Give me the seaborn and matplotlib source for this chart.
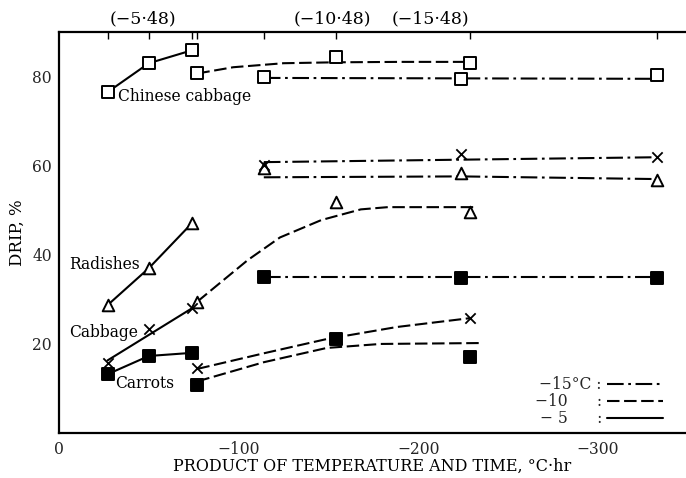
import matplotlib
matplotlib.use("Agg")
import matplotlib.pyplot as plt
import seaborn as sns
from matplotlib.lines import Line2D

# ---------------- data ----------------
x5 = [-27, -50, -74]       # -5 C runs (degC*hr)
x10 = [-77, -154, -229]    # -10 C runs
x15 = [-114, -224, -333]   # -15 C runs

chinese_5 = [76.5, 83.0, 85.9]
chinese_10 = [80.7, 84.3, 83.0]
chinese_15 = [79.8, 79.4, 80.3]
radish_5 = [28.7, 37.0, 47.1]
radish_10 = [29.4, 51.8, 49.5]
radish_15 = [59.4, 58.3, 56.7]
cabbage_5 = [15.7, 23.3, 28.0]
cabbage_10 = [14.6, 21.3, 25.8]
cabbage_15 = [60.1, 62.6, 61.9]
carrot_5 = [13.2, 17.3, 18.0]
carrot_10 = [10.8, 21.1, 17.0]
carrot_15 = [35.0, 34.8, 34.8]

# hand-fitted curves as drawn in the reference
chinese_10_fx = [-77, -97, -125, -153, -190, -229]
chinese_10_fy = [80.7, 82.1, 83.0, 83.2, 83.3, 83.3]
chinese_15_fx = [-114, -333]
chinese_15_fy = [79.7, 79.5]
radish_10_fx = [-77, -105, -123, -146, -168, -183, -231]
radish_10_fy = [29.5, 38.8, 43.9, 47.8, 50.2, 50.7, 50.7]
radish_15_fx = [-114, -224, -333]
radish_15_fy = [57.4, 57.6, 57.0]
cabbage_5_fx = [-27, -74]
cabbage_5_fy = [16.3, 28.0]
cabbage_10_fx = [-77, -114, -149, -188, -229]
cabbage_10_fy = [14.4, 17.9, 21.1, 23.8, 25.8]
cabbage_15_fx = [-114, -333]
cabbage_15_fy = [60.8, 61.9]
carrot_10_fx = [-77, -114, -149, -179, -234]
carrot_10_fy = [11.6, 15.9, 19.1, 20.0, 20.2]
carrot_15_fx = [-114, -333]
carrot_15_fy = [35.0, 35.0]

xticks = [0, -100, -200, -300]
xticklabels = ["0", "\u2212100", "\u2212200", "\u2212300"]
yticks = [20, 40, 60, 80]
top_ticks = [-27, -50, -74, -77, -114, -154, -229, -333]
top_labels = ["(\u22125\u00b748)", "(\u221210\u00b748)", "(\u221215\u00b748)"]
top_label_x = [-47, -152, -207]
legend_labels = ["\u221215\u00b0C :", "\u221210      :", "\u2212 5      :"]

# ---------------- styling ----------------
sns.set_theme(style="white")
plt.rcParams["font.family"] = ["DejaVu Serif"]
plt.rcParams["axes.unicode_minus"] = True

SOLID = "-"
DASH = (0, (6, 2.2))
DASHDOT = (0, (8, 2.2, 1.3, 2.2))
LW = 1.5

fig = plt.figure(figsize=(6.86, 4.78), dpi=100)
ax = fig.add_axes([0.086, 0.094, 0.914, 0.839])


def line(xs, ys, ls):
    sns.lineplot(x=xs, y=ys, ax=ax, color="black", linewidth=LW,
                 linestyle=ls, sort=False, estimator=None, zorder=2)


def pts(xs, ys, marker, filled):
    if marker == "x":
        sns.scatterplot(x=xs, y=ys, ax=ax, marker="x", s=55, color="black",
                        linewidth=1.3, zorder=4)
    else:
        sns.scatterplot(x=xs, y=ys, ax=ax, marker=marker, s=70,
                        facecolor="black" if filled else "white",
                        edgecolor="black", linewidth=1.4, zorder=4)


# Chinese cabbage
line(x5, chinese_5, SOLID)
line(chinese_10_fx, chinese_10_fy, DASH)
line(chinese_15_fx, chinese_15_fy, DASHDOT)
for xs, ys in [(x5, chinese_5), (x10, chinese_10), (x15, chinese_15)]:
    pts(xs, ys, "s", False)

# Radishes
line(x5, radish_5, SOLID)
line(radish_10_fx, radish_10_fy, DASH)
line(radish_15_fx, radish_15_fy, DASHDOT)
for xs, ys in [(x5, radish_5), (x10, radish_10), (x15, radish_15)]:
    pts(xs, ys, "^", False)

# Cabbage
line(cabbage_5_fx, cabbage_5_fy, SOLID)
line(cabbage_10_fx, cabbage_10_fy, DASH)
line(cabbage_15_fx, cabbage_15_fy, DASHDOT)
for xs, ys in [(x5, cabbage_5), (x10, cabbage_10), (x15, cabbage_15)]:
    pts(xs, ys, "x", False)

# Carrots
line(x5, carrot_5, SOLID)
line(carrot_10_fx, carrot_10_fy, DASH)
line(carrot_15_fx, carrot_15_fy, DASHDOT)
for xs, ys in [(x5, carrot_5), (x10, carrot_10), (x15, carrot_15)]:
    pts(xs, ys, "s", True)

# annotations
tkw = dict(fontsize=11.2, color="black", va="center", ha="left")
ax.text(-33, 75.6, "Chinese cabbage", **tkw)
ax.text(-5.5, 37.9, "Radishes", **tkw)
ax.text(-5.5, 22.6, "Cabbage", **tkw)
ax.text(-31.5, 11.2, "Carrots", **tkw)

# axes
ax.set_xlim(0, -349)
ax.set_ylim(0, 90)
ax.set_xticks(xticks, labels=xticklabels)
ax.set_xticks([-50, -150, -250], minor=True)
ax.set_yticks(yticks)
ax.set_yticks([10, 30, 50, 70], minor=True)
ax.tick_params(axis="both", which="both", direction="in", color="black",
               labelsize=11.2, width=1.0)
ax.tick_params(axis="both", which="major", length=5)
ax.tick_params(axis="both", which="minor", length=4)
ax.tick_params(axis="x", pad=6)
ax.tick_params(axis="y", pad=5)
for s in ["left", "bottom", "top"]:
    ax.spines[s].set_color("black")
    ax.spines[s].set_linewidth(1.6)
ax.spines["right"].set_visible(False)

sec = ax.secondary_xaxis("top")
sec.set_xticks(top_ticks, labels=[""] * len(top_ticks))
sec.tick_params(direction="in", length=5, width=1.0, color="black")
sec.spines["top"].set_visible(False)

for xv, lab in zip(top_label_x, top_labels):
    ax.text(xv, 1.032, lab, transform=ax.get_xaxis_transform(),
            ha="center", va="center", fontsize=12.5, color="black")

ax.set_xlabel("PRODUCT OF TEMPERATURE AND TIME, \u00b0C\u00b7hr",
              fontsize=11.5, color="black")
ax.xaxis.set_label_coords(0.5, -0.062)
ax.set_ylabel("DRIP, %", fontsize=12, labelpad=5, color="black")

handles = [Line2D([], [], color="black", lw=LW, linestyle=DASHDOT),
           Line2D([], [], color="black", lw=LW, linestyle=DASH),
           Line2D([], [], color="black", lw=LW, linestyle=SOLID)]
ax.legend(handles, legend_labels, loc="lower right", bbox_to_anchor=(0.985, -0.02),
          frameon=False, markerfirst=False, handlelength=3.6,
          handletextpad=0.3, labelspacing=0.0, fontsize=11.2)

fig.savefig("out.png", dpi=100)
